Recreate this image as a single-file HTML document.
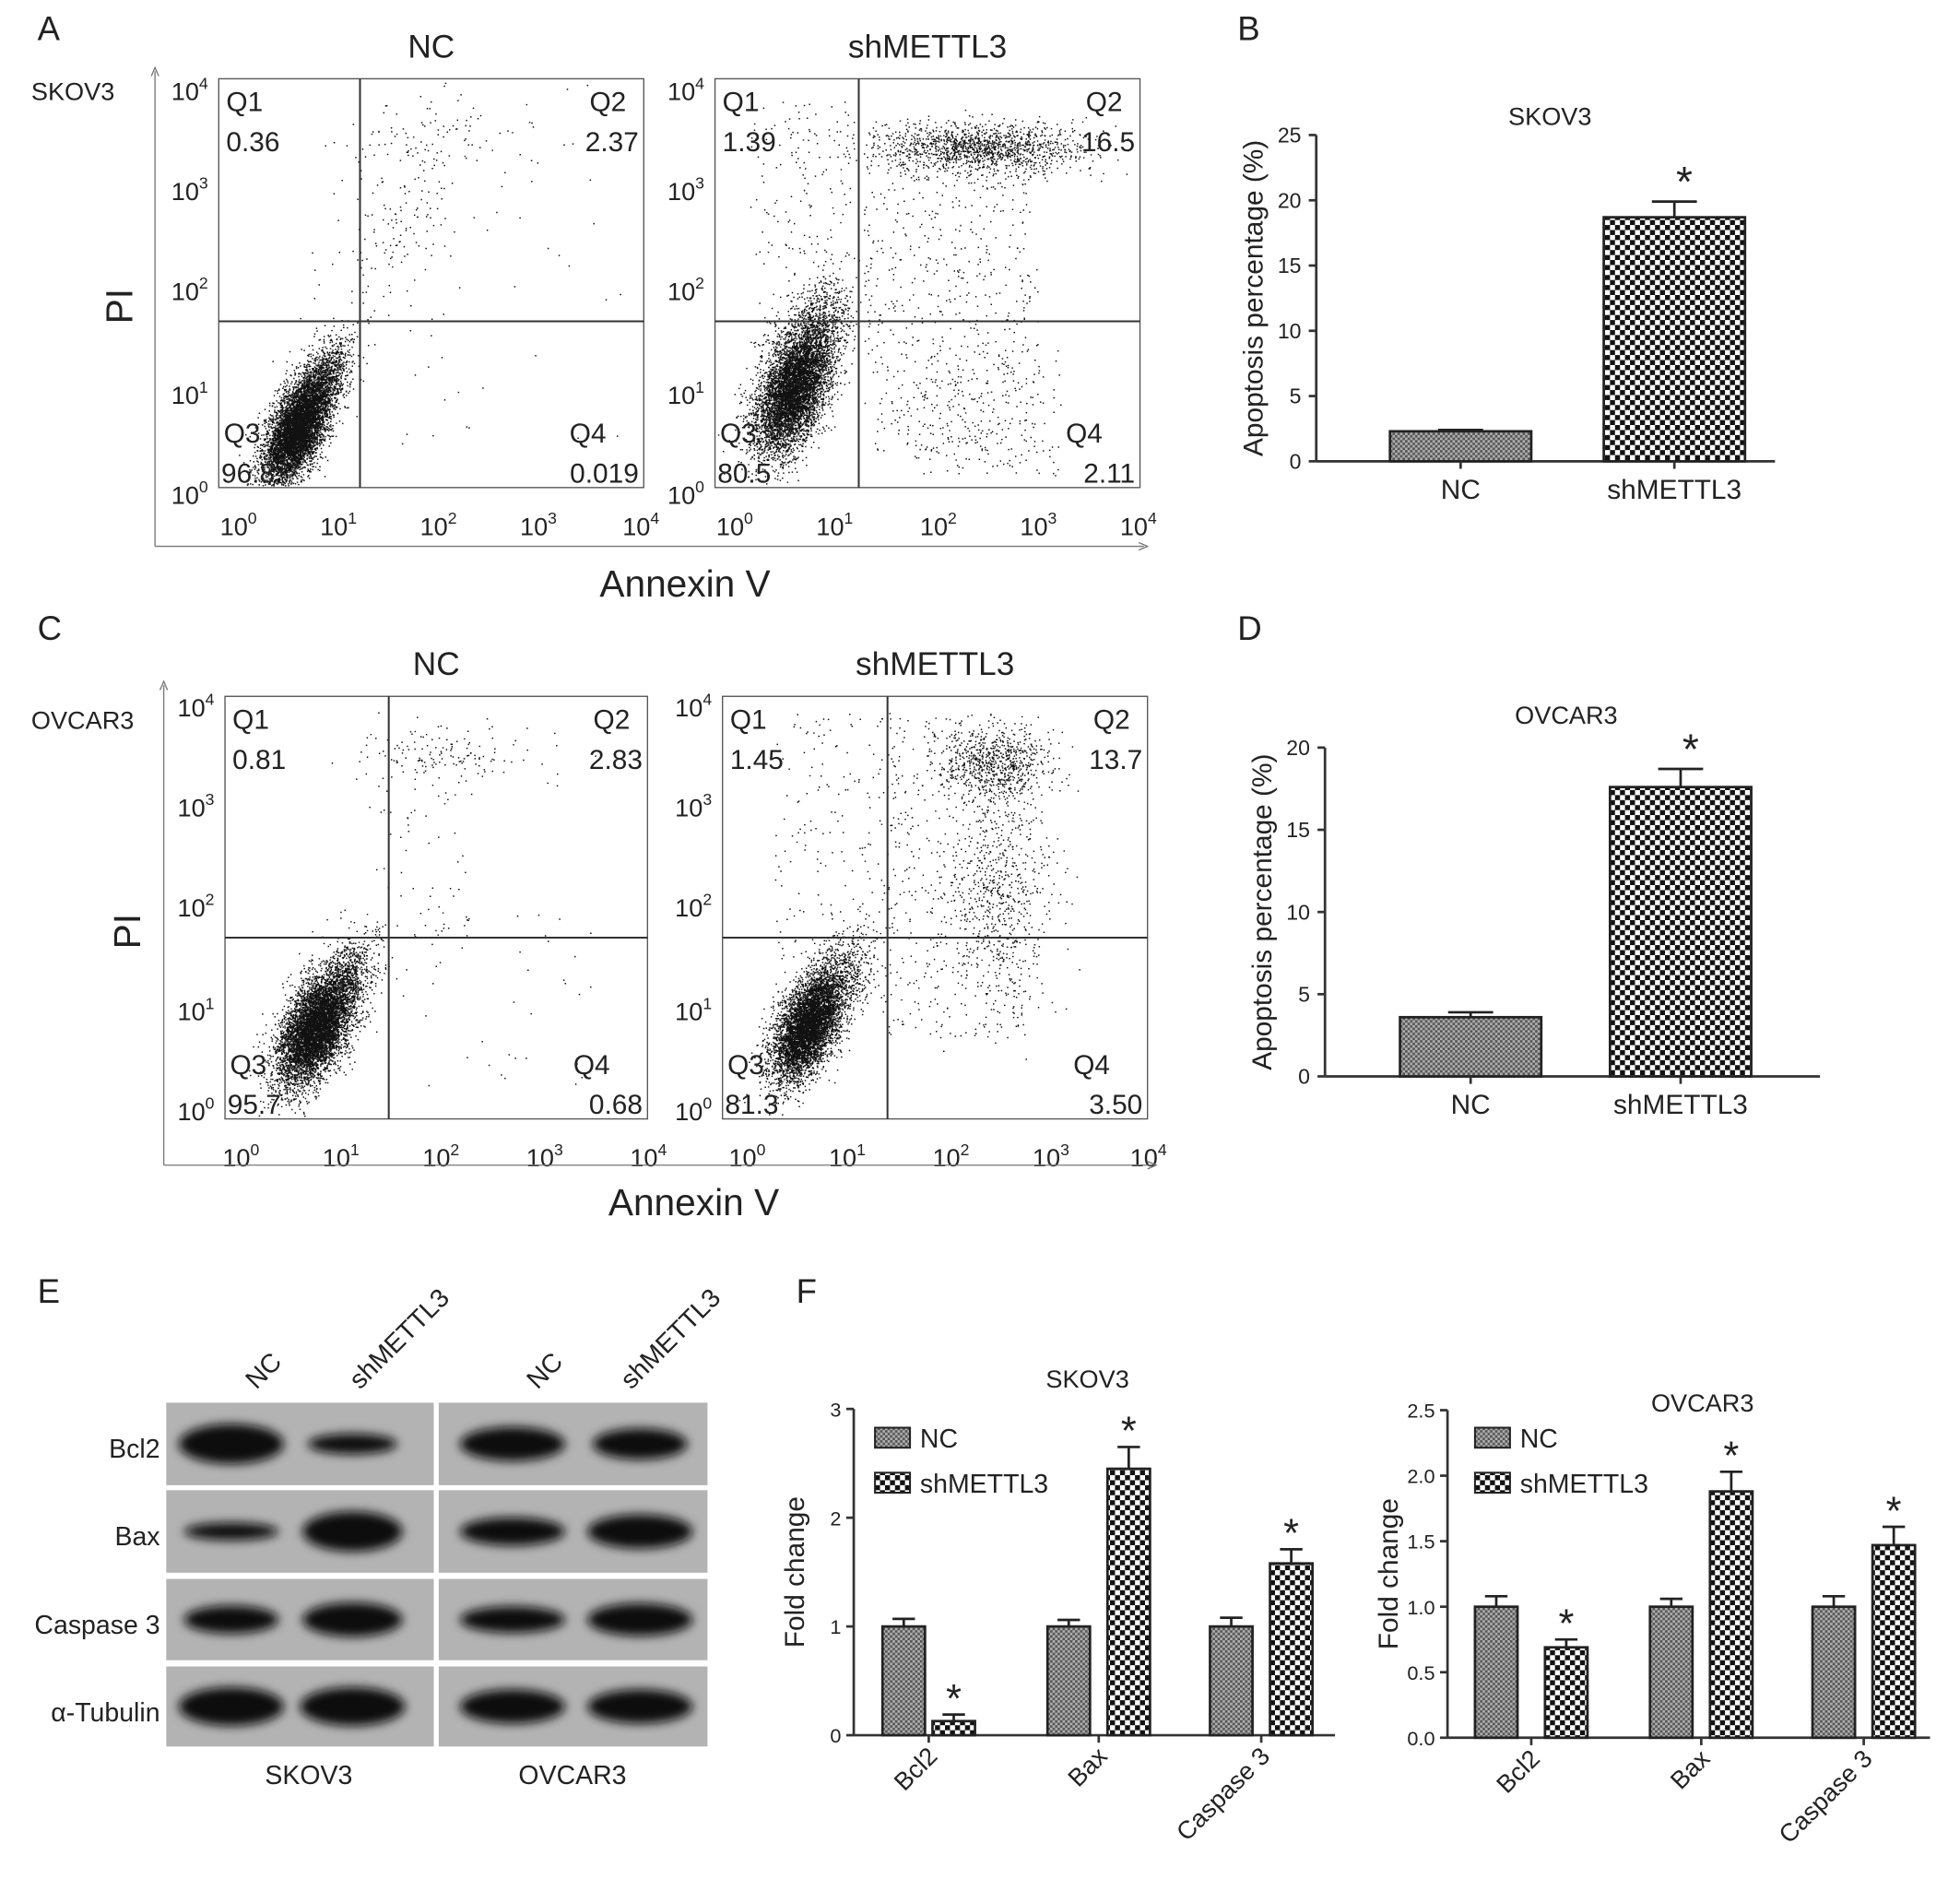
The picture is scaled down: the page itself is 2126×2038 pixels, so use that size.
<!DOCTYPE html>
<html><head><meta charset="utf-8"><style>
html,body{margin:0;padding:0;background:#fff;}
svg{display:block;}
text{font-family:"Liberation Sans",Arial,sans-serif;fill:#222;}
</style></head><body>
<svg id="fig" width="2126" height="2038" viewBox="0 0 1568 1503" preserveAspectRatio="none" xmlns="http://www.w3.org/2000/svg">
<defs>
<pattern id="pNC" width="4" height="4" patternUnits="userSpaceOnUse"><rect width="4" height="4" fill="#b0b0b0"/><rect width="2" height="2" fill="#555"/><rect x="2" y="2" width="2" height="2" fill="#555"/></pattern>
<pattern id="pSH" width="8" height="8" patternUnits="userSpaceOnUse"><rect width="8" height="8" fill="#fff"/><rect width="4" height="4" fill="#111"/><rect x="4" y="4" width="4" height="4" fill="#111"/></pattern>
<filter id="blur" x="-30%" y="-60%" width="160%" height="220%"><feGaussianBlur stdDeviation="4"/></filter>
<marker id="arr" markerWidth="8" markerHeight="8" refX="4" refY="4" orient="auto"><path d="M0,1 L7,4 L0,7" fill="none" stroke="#777" stroke-width="1"/></marker>
</defs>
<g id="root"></g>
</svg>
<script>
// ---------- data ----------
const flowGroups = ["NC","shMETTL3"];
const skovQuad = [["0.36","2.37","96.8","0.019"],["1.39","16.5","80.5","2.11"]];
const ovcarQuad = [["0.81","2.83","95.7","0.68"],["1.45","13.7","81.3","3.50"]];
const apoCats = ["NC","shMETTL3"];
const apoSkov = [2.3, 18.7];
const apoSkovErr = [0.1, 1.2];
const apoOvcar = [3.6, 17.6];
const apoOvcarErr = [0.3, 1.1];
const apoSkovTicks = [0,5,10,15,20,25];
const apoOvcarTicks = [0,5,10,15,20];
const protCats = ["Bcl2","Bax","Caspase 3"];
const skovNC = [1,1,1];
const skovNCErr = [0.07,0.06,0.08];
const skovSH = [0.13,2.45,1.58];
const skovSHErr = [0.06,0.2,0.13];
const ovNC = [1,1,1];
const ovNCErr = [0.08,0.06,0.08];
const ovSH = [0.69,1.88,1.47];
const ovSHErr = [0.06,0.15,0.14];
const foldTicksA = [0,1,2,3];
const foldTicksB = [0,0.5,1.0,1.5,2.0,2.5];
const blotRows = ["Bcl2","Bax","Caspase 3","α-Tubulin"];
const blotW = [[1,0.85,1,0.9],[0.9,0.95,1,1],[0.9,0.95,1,1],[1,1,1,1]];
const blotT = [[1,0.35,0.8,0.7],[0.25,1,0.6,0.8],[0.6,0.8,0.55,0.75],[0.95,0.95,0.8,0.8]];

const NS="http://www.w3.org/2000/svg";
const root=document.getElementById('root');
function el(tag,attrs,parent,txt){const e=document.createElementNS(NS,tag);for(const k in attrs)e.setAttribute(k,attrs[k]);if(txt!==undefined)e.textContent=txt;(parent||root).appendChild(e);return e;}
function grp(name){const g=el('g',{});return g;}
function txt(parent,x,y,s,size,anchor,name,extra){const t=el('text',Object.assign({x:x,y:y,'font-size':size,'text-anchor':anchor||'start'},extra||{}),parent,s);return t;}

[["A",30,32],["B",990,32],["C",30,512],["D",990,512],["E",30,1042],["F",637,1042]].forEach(p=>{const g=grp('panel-label-'+p[0].toLowerCase());txt(g,p[1],p[2],p[0],27,'start','panel-letter');});

let seed=12345;
function rnd(){seed=(seed*1664525+1013904223)%4294967296;return seed/4294967296;}
function gauss(){let u=rnd()||1e-9,v=rnd();return Math.sqrt(-2*Math.log(u))*Math.cos(2*Math.PI*v);}

function flowPlot(name,box,qx,qy,quad,title,clusters,ticksY,ticksXy){
  const g=grp(name);
  el('rect',{x:box[0],y:box[1],width:box[2]-box[0],height:box[3]-box[1],fill:'#fff',stroke:'#555','stroke-width':1},g);
  let d='';
  clusters.forEach(c=>{for(let i=0;i<c.n;i++){let a=gauss(),b=gauss();let x=c.x+c.sx*a,y=c.y+c.sy*(c.rho*a+Math.sqrt(1-c.rho*c.rho)*b);
    if(c.uni){x=c.x+(rnd()-0.5)*c.sx*2;y=c.y+(rnd()-0.5)*c.sy*2;}
    if(x<box[0]+1||x>box[2]-2||y<box[1]+1||y>box[3]-2)continue;d+='M'+x.toFixed(1)+' '+y.toFixed(1)+'h1.1v1.1h-1.1z';}});
  const p=el('path',{d:d,fill:'#111'},g);
  el('line',{x1:qx,y1:box[1],x2:qx,y2:box[3],stroke:'#333','stroke-width':1.5},g);
  el('line',{x1:box[0],y1:qy,x2:box[2],y2:qy,stroke:'#333','stroke-width':1.5},g);
  const fs=22;
  txt(g,box[0]+6,box[1]+26,'Q1',fs,'start','q1-label');txt(g,box[0]+6,box[1]+58,quad[0],fs,'start','q1-value');
  txt(g,box[2]-14,box[1]+26,'Q2',fs,'end','q2-label');txt(g,box[2]-4,box[1]+58,quad[1],fs,'end','q2-value');
  txt(g,box[0]+4,box[3]-36,'Q3',fs,'start','q3-label');txt(g,box[0]+2,box[3]-4,quad[2],fs,'start','q3-value');
  txt(g,box[2]-30,box[3]-36,'Q4',fs,'end','q4-label');txt(g,box[2]-4,box[3]-4,quad[3],fs,'end','q4-value');
  txt(g,(box[0]+box[2])/2,box[1]-17,title,26,'middle','plot-title');
  ticksY.forEach((y,i)=>{const t=txt(g,box[0]-38,y+8,'10',20,'start','y-tick-label');el('tspan',{dy:-9,'font-size':13},t,String(4-i));});
  ticksXy.forEach((x,i)=>{const t=txt(g,x-14,box[3]+38,'10',20,'start','x-tick-label');el('tspan',{dy:-9,'font-size':13},t,String(i));});
}
function C(x,y,sx,sy,rho,n,uni){return {x,y,sx,sy,rho,n,uni};}

flowPlot('flow-skov3-nc',[175,63,515,390],288,257,skovQuad[0],flowGroups[0],
 [C(238,342,13,22,-0.6,6500),C(262,300,10,16,-0.5,700),C(320,180,30,45,-0.5,160),C(360,108,45,16,0,90),C(400,250,100,110,0,35,true)],
 [72,152,232,315,395],[190,270,350,430,512]);
flowPlot('flow-skov3-sh',[572,63,912,390],687,257,skovQuad[1],flowGroups[1],
 [C(634,312,15,26,-0.5,6000),C(655,262,13,22,-0.4,600),C(785,118,42,10,0,1400),C(760,240,70,120,0,600,true),C(640,180,40,100,0,200,true),C(790,330,60,50,0,180,true)],
 [72,152,232,315,395],[587,667,750,830,910]);
flowPlot('flow-ovcar3-nc',[180,557,518,895],311,750,ovcarQuad[0],flowGroups[0],
 [C(252,822,15,23,-0.55,6500),C(280,780,12,16,-0.4,500),C(350,605,35,12,0,150),C(335,690,40,70,0,70,true),C(400,800,80,70,0,35,true)],
 [565,645,725,808,888],[192,272,352,435,518]);
flowPlot('flow-ovcar3-sh',[578,557,918,895],710,750,ovcarQuad[1],flowGroups[1],
 [C(646,820,14,22,-0.55,5400),C(675,780,13,18,-0.4,500),C(795,612,22,14,0,750),C(800,720,22,45,0,650),C(760,700,60,130,0,450,true),C(660,690,40,120,0,180,true)],
 [565,645,725,808,888],[597,677,760,840,918]);

function outerAxes(name,x0,y0,y1,x1,lblX,lblY,cell){
  const g=grp(name);
  el('line',{x1:x0,y1:y1,x2:x0,y2:y0,stroke:'#777','stroke-width':1,'marker-end':'url(#arr)'},g);
  el('line',{x1:x0,y1:y1,x2:x1,y2:y1,stroke:'#777','stroke-width':1,'marker-end':'url(#arr)'},g);
  txt(g,lblX[0],lblX[1],'Annexin V',30,'middle','x-axis-title');
  txt(g,lblY[0],lblY[1],'PI',30,'middle','y-axis-title',{transform:`rotate(-90 ${lblY[0]} ${lblY[1]})`});
  txt(g,cell[0],cell[1],cell[2],20,'start','cell-line-label');
}
outerAxes('flow-axes-a',124,57,437,915,[548,477],[106,245],[25,80,'SKOV3']);
outerAxes('flow-axes-c',131,548,932,922,[555,972],[112,745],[25,583,'OVCAR3']);

function apoChart(name,x0,xEnd,y0,yTop,vmax,ticks,vals,errs,title,titlePos,barX){
  const g=grp(name);const sy=v=>y0-(v/vmax)*(y0-yTop);
  el('line',{x1:x0,y1:y0,x2:x0,y2:yTop,stroke:'#333','stroke-width':2},g);
  el('line',{x1:x0,y1:y0,x2:xEnd,y2:y0,stroke:'#333','stroke-width':2},g);
  ticks.forEach(t=>{el('line',{x1:x0-6,y1:sy(t),x2:x0,y2:sy(t),stroke:'#333','stroke-width':2},g);txt(g,x0-12,sy(t)+6,String(t),17,'end','y-tick-label');});
  vals.forEach((v,i)=>{const bx=barX[i],w=113;const cx=bx+w/2;
    el('line',{x1:cx,y1:sy(v+errs[i]),x2:cx,y2:sy(v),stroke:'#222','stroke-width':2},g);
    el('line',{x1:cx-18,y1:sy(v+errs[i]),x2:cx+18,y2:sy(v+errs[i]),stroke:'#222','stroke-width':2},g);
    const r=el('rect',{x:bx,y:sy(v),width:w,height:y0-sy(v),fill:i?'url(#pSH)':'url(#pNC)',stroke:'#222','stroke-width':2},g);
    el('line',{x1:cx,y1:y0,x2:cx,y2:y0+6,stroke:'#333','stroke-width':2},g);
    txt(g,cx,y0+30,apoCats[i],22,'middle','x-tick-label');
    if(i===1)txt(g,cx+8,sy(v+errs[i])-4,'*',34,'middle','significance-star');});
  txt(g,titlePos[0],titlePos[1],title,20,'middle','chart-title');
  const ly=(y0+yTop)/2;txt(g,x0-43,ly,'Apoptosis percentage (%)',22,'middle','y-axis-title',{transform:`rotate(-90 ${x0-43} ${ly})`});
}
apoChart('apoptosis-chart-skov3',1053,1420,369,108,25,apoSkovTicks,apoSkov,apoSkovErr,'SKOV3',[1240,100],[1112,1283]);
apoChart('apoptosis-chart-ovcar3',1060,1456,861,598,20,apoOvcarTicks,apoOvcar,apoOvcarErr,'OVCAR3',[1253,579],[1120,1288]);

(function(){
  const g=grp('western-blot');
  const rowsY=[[1122,1188],[1192,1258],[1263,1328],[1333,1397]];
  const blocks=[[133,347],[351,566]];
  const laneC=[[185,282],[410,512]];
  blotRows.forEach((r,ri)=>{
    txt(g,128,rowsY[ri][0]+44,r,21,'end','blot-row-label');
    blocks.forEach((b,bi)=>{
      el('rect',{x:b[0],y:rowsY[ri][0],width:b[1]-b[0],height:rowsY[ri][1]-rowsY[ri][0],fill:'#b3b3b3'},g);
      [0,1].forEach(li=>{const k=bi*2+li;const cy=(rowsY[ri][0]+rowsY[ri][1])/2;const w=blotW[ri][k]*42,h=4+blotT[ri][k]*12;
        const e=el('ellipse',{cx:laneC[bi][li],cy:cy,rx:w,ry:h,fill:'#111',filter:'url(#blur)'},g);});
    });
  });
  const lanes=[["NC",205,1112],["shMETTL3",288,1112],["NC",430,1112],["shMETTL3",505,1112]];
  lanes.forEach(l=>txt(g,l[1],l[2],l[0],21,'start','lane-label',{transform:`rotate(-45 ${l[1]} ${l[2]})`}));
  txt(g,247,1427,'SKOV3',21,'middle','blot-cell-line');
  txt(g,458,1427,'OVCAR3',21,'middle','blot-cell-line');
})();

function foldChart(name,x0,xEnd,y0,yTop,vmax,ticks,nc,ncE,sh,shE,title,tpos,ncX,shX,legend){
  const g=grp(name);const sy=v=>y0-(v/vmax)*(y0-yTop);const w=34;
  el('line',{x1:x0,y1:y0,x2:x0,y2:yTop,stroke:'#333','stroke-width':2},g);
  el('line',{x1:x0,y1:y0,x2:xEnd,y2:y0,stroke:'#333','stroke-width':2},g);
  ticks.forEach(t=>{el('line',{x1:x0-6,y1:sy(t),x2:x0,y2:sy(t),stroke:'#333','stroke-width':2},g);txt(g,x0-10,sy(t)+6,vmax<3?t.toFixed(1):String(t),16,'end','y-tick-label');});
  function bar(x,v,e,fill,nm,star){const cx=x+w/2;
    el('line',{x1:cx,y1:sy(v+e),x2:cx,y2:sy(v),stroke:'#222','stroke-width':2},g);
    el('line',{x1:cx-9,y1:sy(v+e),x2:cx+9,y2:sy(v+e),stroke:'#222','stroke-width':2},g);
    const r=el('rect',{x:x,y:sy(v),width:w,height:y0-sy(v),fill:fill,stroke:'#222','stroke-width':2},g);
    if(star)txt(g,cx,sy(v+e)-2,'*',32,'middle','significance-star');}
  protCats.forEach((c,i)=>{bar(ncX[i],nc[i],ncE[i],'url(#pNC)','bar-nc-'+c,false);bar(shX[i],sh[i],shE[i],'url(#pSH)','bar-shmettl3-'+c,true);
    const cx=(ncX[i]+shX[i]+w)/2;el('line',{x1:cx,y1:y0,x2:cx,y2:y0+6,stroke:'#333','stroke-width':2},g);
    const tx=cx+8,ty=y0+18;txt(g,tx,ty,c,20,'end','x-tick-label',{transform:`rotate(-45 ${tx} ${ty})`});});
  txt(g,tpos[0],tpos[1],title,20,'middle','chart-title');
  const ly=(y0+yTop)/2;txt(g,x0-40,ly,'Fold change',22,'middle','y-axis-title',{transform:`rotate(-90 ${x0-40} ${ly})`});
  const lg=grp('legend');g.appendChild(lg);
  el('rect',{x:legend[0],y:legend[1]-8,width:28,height:16,fill:'url(#pNC)',stroke:'#222','stroke-width':1.5},lg);
  txt(lg,legend[0]+36,legend[1]+8,'NC',21,'start','legend-entry-nc');
  el('rect',{x:legend[0],y:legend[1]+28,width:28,height:16,fill:'url(#pSH)',stroke:'#222','stroke-width':1.5},lg);
  txt(lg,legend[0]+36,legend[1]+44,'shMETTL3',21,'start','legend-entry-shmettl3');
}
foldChart('fold-change-skov3',683,1068,1388,1127,3,foldTicksA,skovNC,skovNCErr,skovSH,skovSHErr,'SKOV3',[870,1110],[706,838,968],[746,886,1016],[700,1150]);
foldChart('fold-change-ovcar3',1158,1544,1390,1128,2.5,foldTicksB,ovNC,ovNCErr,ovSH,ovSHErr,'OVCAR3',[1362,1129],[1180,1320,1450],[1236,1368,1498],[1180,1150]);
</script>
</body></html>
